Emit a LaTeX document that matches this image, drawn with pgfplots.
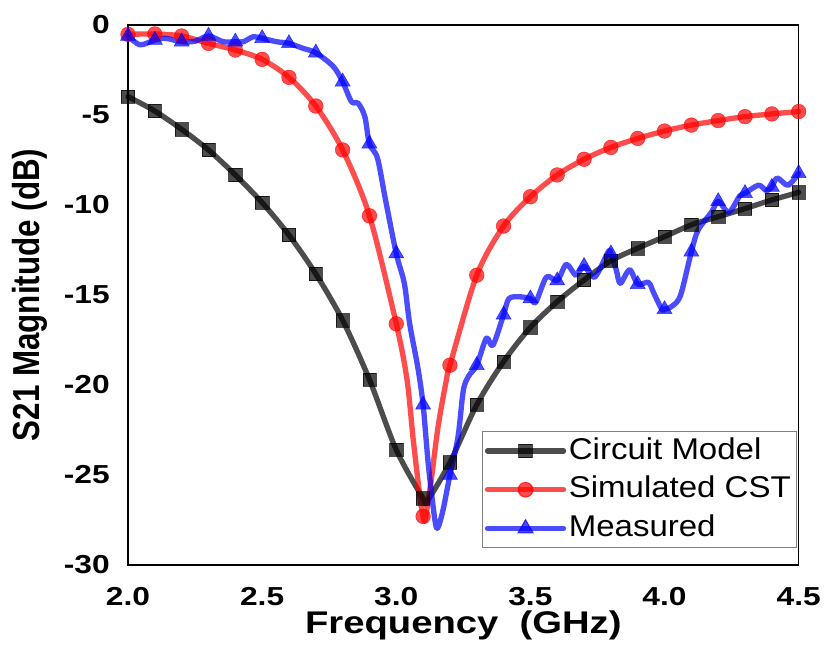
\documentclass[border=0pt]{standalone}
\usepackage{fontspec}
\setmainfont{Liberation Sans}
\usepackage{graphicx}
\usepackage{pgfplots}
\pgfplotsset{compat=1.18}

% the reference is stretched sideways a little
\newcommand{\sx}[1]{\scalebox{1.22}[1]{#1}}
\newcommand{\slg}[1]{\scalebox{1.1}[1]{#1}}
\newcommand{\sy}[1]{\scalebox{1}[1.2]{#1}}

\pgfplotsset{
  s21line/.style={line width=4pt, opacity=0.7, smooth, tension=0.5, line cap=round, line join=round, no marks},
  s21mark/.style={only marks, opacity=0.7, mark options={draw=none}},
}

\begin{document}
\begin{tikzpicture}
\begin{axis}[
    scale only axis,
    width=503pt, height=405pt,
    xmin=2.0, xmax=4.5,
    ymin=-30, ymax=0,
    xtick={2.0,2.5,3.0,3.5,4.0,4.5},
    xticklabels={\sx{2.0},\sx{2.5},\sx{3.0},\sx{3.5},\sx{4.0},\sx{4.5}},
    ytick={-30,-25,-20,-15,-10,-5,0},
    yticklabels={\sx{-30},\sx{-25},\sx{-20},\sx{-15},\sx{-10},\sx{-5},\sx{0}},
    major tick length=0pt,
    axis line style={line width=1.2pt},
    tick label style={font=\fontsize{19.5}{22}\selectfont\bfseries},
    xticklabel style={anchor=north, inner sep=0pt, yshift=-16.5pt},
    yticklabel style={anchor=east, inner sep=0pt, xshift=-13.5pt},
    xlabel={\sx{Frequency\ \ (GHz)}},
    ylabel={\sy{S21 Magnitude (dB)}},
    label style={font=\fontsize{23.5}{27}\selectfont\bfseries},
    xlabel style={at={(axis description cs:0.5,0)}, anchor=base, yshift=-51pt, inner sep=0pt},
    ylabel style={at={(axis description cs:-0.146,0.5)}, anchor=center, rotate=0},
    clip=false,
    legend cell align=left,
    legend style={
        at={(axis description cs:0.997,0.031)}, anchor=south east,
        draw=gray, line width=0.8pt,
        font=\fontsize{22.5}{27}\selectfont,
        row sep=4pt, inner sep=2pt,
        nodes={inner sep=2pt, text height=16.5pt, text depth=4.5pt},
    },
]

\coordinate (O) at (rel axis cs:0,0);

% Circuit model
\addplot[s21line, black, forget plot] coordinates {
  (2.0,-3.98) (2.1,-4.78) (2.2,-5.80) (2.3,-6.94) (2.4,-8.33) (2.5,-9.87)
  (2.6,-11.67) (2.7,-13.83) (2.8,-16.4) (2.9,-19.7) (3.0,-23.6) (3.1,-26.3)
  (3.115,-26.45) (3.2,-24.3) (3.3,-21.1) (3.4,-18.7) (3.5,-16.8) (3.6,-15.37)
  (3.7,-14.17) (3.8,-13.1) (3.9,-12.4) (4.0,-11.76) (4.1,-11.1) (4.2,-10.65)
  (4.3,-10.2) (4.4,-9.72) (4.5,-9.3)
};
\addplot[s21mark, black, mark=square*, mark size=5pt,
  legend image code/.code={
    \draw[line width=4pt, opacity=0.7, black, line cap=round] (0pt,0pt) -- (57pt,0pt);
    \fill[opacity=0.7, black] (23.5pt,-5pt) rectangle (33.5pt,5pt);
  }] coordinates {
  (2.0,-3.98) (2.1,-4.78) (2.2,-5.80) (2.3,-6.94) (2.4,-8.33) (2.5,-9.87)
  (2.6,-11.67) (2.7,-13.83) (2.8,-16.4) (2.9,-19.7) (3.0,-23.6) (3.1,-26.3)
  (3.2,-24.3) (3.3,-21.1) (3.4,-18.7) (3.5,-16.8) (3.6,-15.37)
  (3.7,-14.17) (3.8,-13.1) (3.9,-12.4) (4.0,-11.76) (4.1,-11.1) (4.2,-10.65)
  (4.3,-10.2) (4.4,-9.72) (4.5,-9.3)
};
\addlegendentry{\slg{Circuit Model}}

% Simulated CST
\addplot[s21line, red, forget plot] coordinates {
  (2.0,-0.52) (2.1,-0.5) (2.2,-0.61) (2.3,-1.02) (2.4,-1.39) (2.5,-1.91)
  (2.6,-2.91) (2.7,-4.5) (2.8,-6.94) (2.9,-10.6) (3.0,-16.6) (3.04,-19.7)
  (3.063,-23.0) (3.088,-26.2) (3.1,-27.3) (3.108,-27.45) (3.13,-25.3)
  (3.156,-22.3) (3.187,-19.7) (3.2,-18.9) (3.3,-13.9) (3.4,-11.17) (3.5,-9.54)
  (3.6,-8.33) (3.7,-7.46) (3.8,-6.8) (3.9,-6.3) (4.0,-5.89) (4.1,-5.56)
  (4.2,-5.31) (4.3,-5.09) (4.4,-4.94) (4.5,-4.81)
};
\addplot[s21mark, red, mark=*, mark size=5.5pt,
  legend image code/.code={
    \draw[line width=4pt, opacity=0.7, red, line cap=round] (0pt,0pt) -- (57pt,0pt);
    \fill[opacity=0.7, red] (28.5pt,0pt) circle (5.5pt);
  }] coordinates {
  (2.0,-0.52) (2.1,-0.5) (2.2,-0.61) (2.3,-1.02) (2.4,-1.39) (2.5,-1.91)
  (2.6,-2.91) (2.7,-4.5) (2.8,-6.94) (2.9,-10.6) (3.0,-16.6) (3.1,-27.3)
  (3.2,-18.9) (3.3,-13.9) (3.4,-11.17) (3.5,-9.54)
  (3.6,-8.33) (3.7,-7.46) (3.8,-6.8) (3.9,-6.3) (4.0,-5.89) (4.1,-5.56)
  (4.2,-5.31) (4.3,-5.09) (4.4,-4.94) (4.5,-4.81)
};
\addlegendentry{\slg{Simulated CST}}

% Measured
\addplot[s21line, blue, forget plot] coordinates {
  (2.0,-0.61) (2.045,-1.1) (2.1,-0.83) (2.14,-0.74) (2.2,-0.93) (2.25,-0.9)
  (2.3,-0.61) (2.355,-0.93) (2.4,-0.93) (2.43,-0.93) (2.467,-0.65) (2.5,-0.74)
  (2.554,-0.93) (2.6,-1.02) (2.653,-1.3) (2.7,-1.54) (2.765,-2.3) (2.8,-3.15)
  (2.833,-4.26) (2.858,-4.35) (2.883,-5.1) (2.9,-6.6) (2.93,-7.4) (2.96,-9.72)
  (3.0,-12.7) (3.03,-14.35) (3.05,-16.6) (3.08,-19.0) (3.1,-21.1) (3.12,-24.5)
  (3.145,-27.6) (3.156,-27.9) (3.175,-26.9) (3.2,-25.0) (3.23,-22.9) (3.25,-20.3)
  (3.27,-19.5) (3.3,-18.9) (3.336,-17.4) (3.36,-17.8) (3.4,-16.1) (3.42,-15.2)
  (3.46,-15.1) (3.5,-15.2) (3.52,-15.4) (3.56,-14.0) (3.6,-14.2) (3.634,-13.3)
  (3.67,-13.9) (3.7,-13.4) (3.74,-14.0) (3.79,-12.6) (3.8,-12.7) (3.82,-13.6)
  (3.835,-14.35) (3.87,-13.6) (3.9,-14.4) (3.94,-14.3) (3.96,-14.9) (3.99,-15.8)
  (4.0,-15.8) (4.03,-15.6) (4.06,-15.0) (4.1,-12.6) (4.125,-11.4) (4.175,-10.4)
  (4.2,-9.8) (4.24,-10.4) (4.28,-9.5) (4.3,-9.35) (4.35,-8.9) (4.38,-9.2)
  (4.4,-9.0) (4.42,-8.5) (4.46,-8.9) (4.5,-8.24)
};
\addplot[s21mark, blue, mark=triangle*, mark size=6.5pt,
  legend image code/.code={
    \draw[line width=4pt, opacity=0.7, blue, line cap=round] (0pt,0pt) -- (57pt,0pt);
    \fill[opacity=0.7, blue] (28.5pt,6.5pt) -- (22.9pt,-3.25pt) -- (34.1pt,-3.25pt) -- cycle;
  }] coordinates {
  (2.0,-0.61) (2.1,-0.83) (2.2,-0.93) (2.3,-0.61) (2.4,-0.93) (2.5,-0.74)
  (2.6,-1.02) (2.7,-1.54) (2.8,-3.15) (2.9,-6.6) (3.0,-12.7) (3.1,-21.1)
  (3.2,-25.0) (3.3,-18.9) (3.4,-16.1) (3.5,-15.2) (3.6,-14.2) (3.7,-13.4)
  (3.8,-12.7) (3.9,-14.4) (4.0,-15.8) (4.1,-12.6) (4.2,-9.8) (4.3,-9.35)
  (4.4,-9.0) (4.5,-8.24)
};
\addlegendentry{\slg{Measured}}

\end{axis}
% page frame in the reference's proportions
\path ([shift={(-96pt,-70.5pt)}]O) rectangle ++(620.25pt,494.25pt);
\end{tikzpicture}
\end{document}
